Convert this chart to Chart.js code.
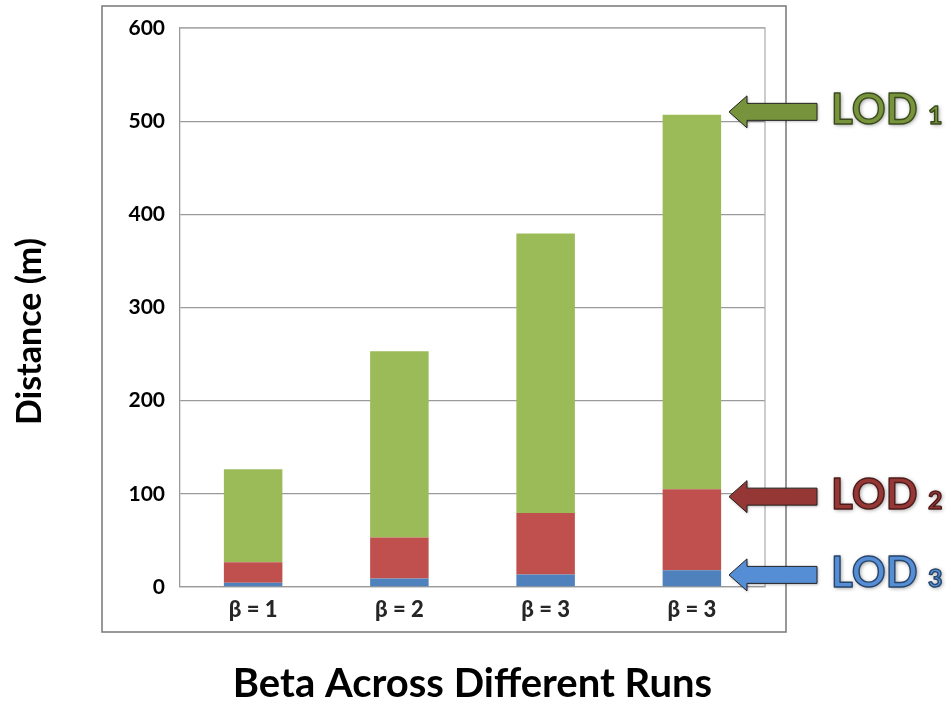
<!DOCTYPE html>
<html>
<head>
<meta charset="utf-8">
<script src="https://cdn.jsdelivr.net/npm/chart.js@4/dist/chart.umd.min.js"></script>
<style>
  html, body { margin: 0; padding: 0; background: #fff; }
  #wrap { width: 951px; height: 704px; position: relative; }
</style>
</head>
<body>
<div id="wrap"><canvas id="c" width="951" height="704"></canvas></div>
<script>
// Runs and stacked distances per level of detail (metres)
const categories = ['β = 1', 'β = 2', 'β = 3', 'β = 3'];
const lod3 = [4.5, 9, 13.5, 18];
const lod2 = [22, 44, 66, 87];
const lod1 = [100, 200, 300, 402];
const yTicks = [0, 100, 200, 300, 400, 500, 600];
const yTitle = 'Distance (m)';
const xTitle = 'Beta Across Different Runs';

// Callout arrows on the right: label, value they point at, colours
const calloutLabels = ['LOD', 'LOD', 'LOD'];
const calloutDigits = ['1', '2', '3'];
const calloutValues = [510, 97, 13];
const calloutFill = ['#77933C', '#953735', '#558ED5'];
const calloutEdge = ['#3a4a1c', '#4a1a19', '#27456b'];

const FONT = 'Lato, "Open Sans", "DejaVu Sans", sans-serif';

const frame = {
  id: 'frame',
  beforeDraw(chart) {
    const ctx = chart.ctx;
    ctx.save();
    ctx.fillStyle = '#fff';
    ctx.fillRect(0, 0, chart.width, chart.height);
    ctx.restore();
  },
  afterDraw(chart) {
    const ctx = chart.ctx;
    const a = chart.chartArea;
    const y = chart.scales.y;
    ctx.save();
    // plot area outline
    ctx.strokeStyle = '#b2b2b2';
    ctx.lineWidth = 1.3;
    ctx.beginPath();
    ctx.moveTo(a.left, a.top);
    ctx.lineTo(a.right, a.top);
    ctx.lineTo(a.right, a.bottom);
    ctx.stroke();
    // outer chart frame
    ctx.strokeStyle = '#7f7f7f';
    ctx.lineWidth = 1.6;
    ctx.strokeRect(a.left - 78, a.top - 22, a.right - a.left + 99, a.bottom - a.top + 67);

    // vertical axis title
    ctx.save();
    ctx.translate(30, (a.top + a.bottom) / 2 + 24);
    ctx.rotate(-Math.PI / 2);
    ctx.font = 'bold 34px ' + FONT;
    ctx.fillStyle = '#000';
    ctx.textAlign = 'center';
    ctx.textBaseline = 'middle';
    ctx.fillText(yTitle, 0, 0);
    ctx.restore();

    // callout arrows and labels
    calloutValues.forEach((v, i) => {
      const py = y.getPixelForValue(v);
      const tip = a.right - 36;
      const headBack = tip + 18;
      const tail = tip + 88;
      ctx.save();
      ctx.shadowColor = 'rgba(0,0,0,0.35)';
      ctx.shadowBlur = 3;
      ctx.shadowOffsetX = 1;
      ctx.shadowOffsetY = 1;
      ctx.beginPath();
      ctx.moveTo(tip, py);
      ctx.lineTo(headBack, py - 16);
      ctx.lineTo(headBack, py - 8.5);
      ctx.lineTo(tail, py - 8.5);
      ctx.lineTo(tail, py + 8.5);
      ctx.lineTo(headBack, py + 8.5);
      ctx.lineTo(headBack, py + 16);
      ctx.closePath();
      ctx.fillStyle = calloutFill[i];
      ctx.fill();
      ctx.shadowColor = 'transparent';
      ctx.strokeStyle = '#222';
      ctx.lineWidth = 1;
      ctx.stroke();
      ctx.restore();

      ctx.save();
      ctx.textBaseline = 'alphabetic';
      ctx.textAlign = 'left';
      ctx.lineJoin = 'round';
      ctx.shadowColor = 'rgba(0,0,0,0.45)';
      ctx.shadowBlur = 4;
      ctx.shadowOffsetX = 1;
      ctx.shadowOffsetY = 1;
      ctx.font = 'bold 42px ' + FONT;
      ctx.fillStyle = calloutFill[i];
      ctx.fillText(calloutLabels[i], tail + 14, py + 12);
      ctx.shadowColor = 'transparent';
      ctx.strokeStyle = calloutEdge[i];
      ctx.lineWidth = 1.4;
      ctx.strokeText(calloutLabels[i], tail + 14, py + 12);
      ctx.font = 'bold 25px ' + FONT;
      ctx.shadowColor = 'rgba(0,0,0,0.45)';
      ctx.shadowBlur = 4;
      ctx.fillText(calloutDigits[i], tail + 111, py + 12);
      ctx.shadowColor = 'transparent';
      ctx.strokeText(calloutDigits[i], tail + 111, py + 12);
      ctx.restore();
    });
    ctx.restore();
  }
};

new Chart(document.getElementById('c'), {
  type: 'bar',
  data: {
    labels: categories,
    datasets: [
      { label: 'LOD 3', data: lod3, backgroundColor: '#4F81BD' },
      { label: 'LOD 2', data: lod2, backgroundColor: '#C0504D' },
      { label: 'LOD 1', data: lod1, backgroundColor: '#9BBB59' }
    ]
  },
  options: {
    responsive: false,
    animation: false,
    devicePixelRatio: 1,
    layout: { padding: { left: 0, top: 28, right: 186, bottom: 0 } },
    datasets: { bar: { categoryPercentage: 1, barPercentage: 0.4, borderWidth: 0 } },
    plugins: { legend: { display: false }, tooltip: { enabled: false } },
    scales: {
      x: {
        stacked: true,
        grid: { display: false, drawTicks: false },
        border: { color: '#9a9a9a', width: 1.3 },
        ticks: {
          color: '#262626',
          padding: 10,
          font: { family: FONT, weight: '900', size: 22 }
        },
        title: {
          display: true,
          text: xTitle,
          color: '#000',
          padding: { top: 0, bottom: 0 },
          font: { family: FONT, weight: 'bold', size: 40, lineHeight: 1 }
        },
        afterFit(s) { s.height = 117; }
      },
      y: {
        stacked: true,
        min: yTicks[0],
        max: yTicks[yTicks.length - 1],
        afterBuildTicks(s) { s.ticks = yTicks.map(v => ({ value: v })); },
        grid: { color: '#9a9a9a', lineWidth: 1.3, drawTicks: false },
        border: { color: '#9a9a9a', width: 1.3 },
        ticks: {
          color: '#000',
          padding: 15,
          font: { family: FONT, weight: 'bold', size: 21 }
        },
        afterFit(s) { s.width = 180; }
      }
    }
  },
  plugins: [frame]
});
</script>
</body>
</html>
